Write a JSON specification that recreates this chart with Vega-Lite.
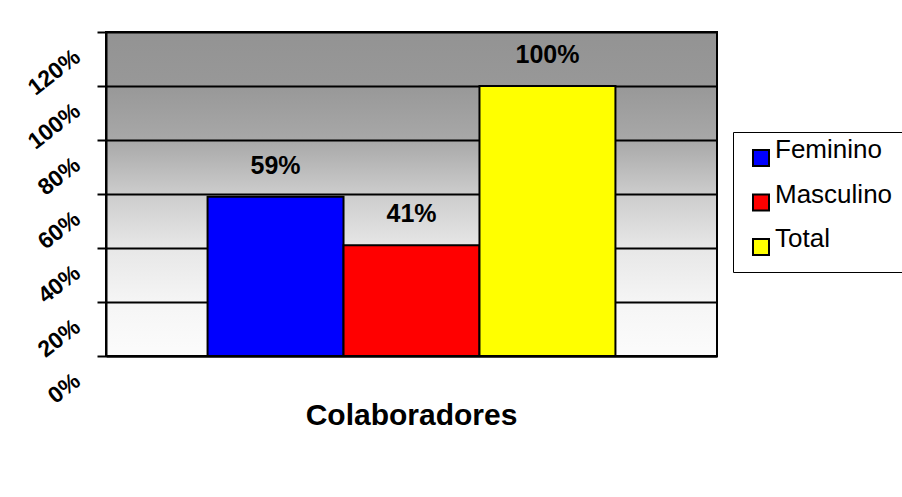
{
  "$schema": "https://vega.github.io/schema/vega-lite/v6.json",
  "autosize": "none",
  "width": 611,
  "height": 324,
  "padding": {"left": 106, "top": 32, "right": 185, "bottom": 141},
  "background": "white",
  "view": {
    "stroke": "black",
    "strokeWidth": 2,
    "fill": {
      "gradient": "linear",
      "x1": 0, "y1": 0, "x2": 0, "y2": 1,
      "stops": [
        {"offset": 0, "color": "#939393"},
        {"offset": 0.167, "color": "#989898"},
        {"offset": 0.333, "color": "#a8a8a8"},
        {"offset": 0.5, "color": "#cccccc"},
        {"offset": 0.667, "color": "#e7e7e7"},
        {"offset": 0.833, "color": "#f5f5f5"},
        {"offset": 1, "color": "#fcfcfc"}
      ]
    }
  },
  "data": {
    "values": [
      {"grupo": "Colaboradores", "serie": "Feminino", "valor": 0.59},
      {"grupo": "Colaboradores", "serie": "Masculino", "valor": 0.41},
      {"grupo": "Colaboradores", "serie": "Total", "valor": 1.0}
    ]
  },
  "encoding": {
    "x": {
      "field": "grupo",
      "type": "nominal",
      "scale": {"paddingInner": 0, "paddingOuter": 0.249},
      "axis": {
        "title": null,
        "labelAngle": 0,
        "labelFont": "Liberation Sans",
        "labelFontSize": 30,
        "labelFontWeight": "bold",
        "labelColor": "black",
        "labelBaseline": "alphabetic",
        "labelPadding": 68,
        "labelLimit": 0,
        "ticks": false,
        "domainColor": "black",
        "domainWidth": 2
      }
    },
    "xOffset": {
      "field": "serie",
      "type": "nominal",
      "sort": ["Feminino", "Masculino", "Total"],
      "scale": {"paddingInner": 0, "paddingOuter": 0}
    },
    "y": {
      "field": "valor",
      "type": "quantitative",
      "scale": {"domain": [0, 1.2], "nice": false},
      "axis": {
        "title": null,
        "values": [0, 0.2, 0.4, 0.6, 0.8, 1.0, 1.2],
        "format": ".0%",
        "labelFont": "Liberation Sans",
        "labelFontSize": 23,
        "labelFontWeight": "bold",
        "labelColor": "black",
        "labelAngle": -38,
        "labelAlign": "right",
        "labelBaseline": "middle",
        "labelOffset": 22,
        "labelPadding": 20,
        "labelOverlap": false,
        "labelBound": false,
        "tickSize": 9,
        "tickWidth": 2,
        "tickColor": "black",
        "domainColor": "black",
        "domainWidth": 2,
        "grid": true,
        "gridColor": "black",
        "gridWidth": 2,
        "gridOpacity": 1
      }
    }
  },
  "layer": [
    {
      "mark": {"type": "bar", "stroke": "black", "strokeWidth": 2},
      "encoding": {
        "color": {
          "field": "serie",
          "type": "nominal",
          "scale": {"domain": ["Feminino", "Masculino", "Total"], "range": ["#0000ff", "#ff0000", "#ffff00"]},
          "legend": {
            "orient": "none",
            "legendX": 627,
            "legendY": 100,
            "title": null,
            "labelFont": "Liberation Sans",
            "labelFontSize": 26,
            "labelColor": "black",
            "labelBaseline": "alphabetic",
            "labelOffset": 1,
            "padding": 13,
            "rowPadding": 11.5,
            "strokeColor": "black",
            "fillColor": "white",
            "symbolType": "square",
            "symbolSize": 256,
            "symbolOffset": 2,
            "symbolStrokeColor": "black",
            "symbolStrokeWidth": 2,
            "symbolOpacity": 1
          }
        }
      }
    },
    {
      "mark": {
        "type": "text",
        "font": "Liberation Sans",
        "fontSize": 25,
        "fontWeight": "bold",
        "color": "black",
        "baseline": "alphabetic",
        "dy": -23
      },
      "encoding": {
        "text": {"field": "valor", "type": "quantitative", "format": ".0%"}
      }
    }
  ]
}
